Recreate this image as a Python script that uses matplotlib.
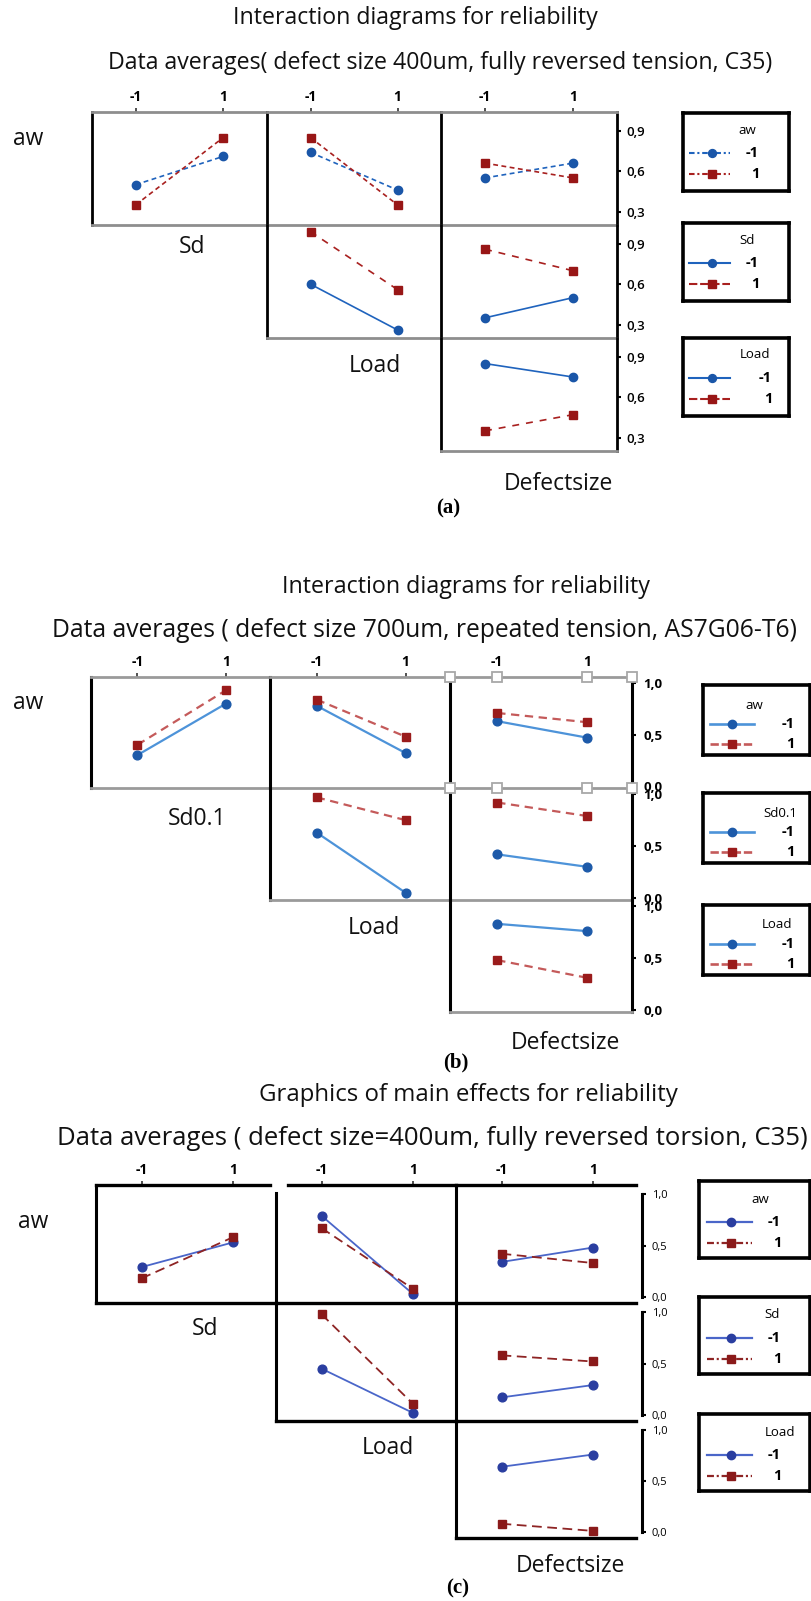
import matplotlib
matplotlib.use('Agg')
import matplotlib.pyplot as plt

W, H = 811, 1601
LEVELS = [-1, 1]
LEVEL_LABELS = ['-1', '1']

# ---- values read off the three Minitab interaction matrices ----
# every cell: [trace level -1 (blue), trace level 1 (red)], each at x = -1, 1
# (a) defect size 400um, fully reversed tension, C35
A_AW_SD = [[0.50, 0.71], [0.35, 0.85]]
A_AW_LOAD = [[0.74, 0.46], [0.85, 0.35]]
A_AW_DEF = [[0.55, 0.66], [0.66, 0.55]]
A_SD_LOAD = [[0.60, 0.26], [0.99, 0.56]]
A_SD_DEF = [[0.35, 0.50], [0.86, 0.70]]
A_LOAD_DEF = [[0.85, 0.75], [0.35, 0.47]]
A_FACTORS = ['aw', 'Sd', 'Load', 'Defectsize']
A_YTICKS = [0.3, 0.6, 0.9]
A_YLABELS = ['0,3', '0,6', '0,9']

# (b) defect size 700um, repeated tension, AS7G06-T6
B_AW_SD = [[0.30, 0.80], [0.40, 0.93]]
B_AW_LOAD = [[0.78, 0.32], [0.84, 0.48]]
B_AW_DEF = [[0.63, 0.47], [0.71, 0.62]]
B_SD_LOAD = [[0.63, 0.05], [0.97, 0.75]]
B_SD_DEF = [[0.42, 0.30], [0.92, 0.79]]
B_LOAD_DEF = [[0.83, 0.76], [0.48, 0.31]]
B_FACTORS = ['aw', 'Sd0.1', 'Load', 'Defectsize']
B_YTICKS = [0.0, 0.5, 1.0]
B_YLABELS = ['0,0', '0,5', '1,0']

# (c) defect size=400um, fully reversed torsion, C35
C_AW_SD = [[0.29, 0.53], [0.18, 0.58]]
C_AW_LOAD = [[0.79, 0.03], [0.67, 0.08]]
C_AW_DEF = [[0.34, 0.48], [0.42, 0.33]]
C_SD_LOAD = [[0.45, 0.02], [0.98, 0.11]]
C_SD_DEF = [[0.17, 0.29], [0.58, 0.52]]
C_LOAD_DEF = [[0.64, 0.76], [0.08, 0.01]]
C_FACTORS = ['aw', 'Sd', 'Load', 'Defectsize']
C_YTICKS = [0.0, 0.5, 1.0]
C_YLABELS = ['0,0', '0,5', '1,0']

plt.rcParams['font.family'] = ['Open Sans', 'DejaVu Sans']
plt.rcParams['lines.scale_dashes'] = False

fig = plt.figure(figsize=(W / 100, H / 100), dpi=100)
renderer = fig.canvas.get_renderer()


def px_axes(x0, y0, x1, y1):
    """axes from pixel box, y measured from the top"""
    return fig.add_axes([x0 / W, 1 - y1 / H, (x1 - x0) / W, (y1 - y0) / H])


def put_text(s, x, y, size, **kw):
    kw.setdefault('ha', 'center')
    kw.setdefault('va', 'center')
    return fig.text(x / W, 1 - y / H, s, fontsize=size, **kw)


def fitted_text(s, x, y, width, size=15, **kw):
    t = put_text(s, x, y, size, **kw)
    bb = t.get_window_extent(renderer)
    t.set_fontsize(size * width / bb.width)
    return t


def draw_panel(lay, sty, cells, yticks, ylabels):
    xe, ye = lay['xe'], lay['ye']
    for (r, c), (lo, hi) in cells.items():
        ax = px_axes(xe[c], ye[r], xe[c + 1], ye[r + 1])
        ax.set_xlim(lay['xlim'])
        ax.set_ylim(lay['ylim'])
        ax.patch.set_visible(False)
        for side in ['right', 'top']:
            ax.spines[side].set_visible(False)
        ax.spines['left'].set(color=sty['vcol'], linewidth=sty['vlw'])
        ax.spines['bottom'].set(color=sty['hcol'], linewidth=sty['hlw'])
        if r == 0:
            ax.spines['top'].set_visible(True)
            ax.spines['top'].set(color=sty['hcol'], linewidth=sty['hlw'])
            ax.xaxis.tick_top()
            ax.set_xticks(LEVELS, LEVEL_LABELS, fontsize=10, fontweight='bold')
            ax.tick_params(axis='x', direction='out', length=3, width=1.2,
                           pad=3, color='#333333')
            if 'top_gap' in lay and c == 0:
                ax.spines['top'].set_bounds(lay['xlim'][0], lay['xlim'][1] - lay['top_gap'])
            if 'top_gap' in lay and c == 1:
                ax.spines['top'].set_bounds(lay['xlim'][0] + 2 * lay['top_gap'], lay['xlim'][1])
                ax.spines['left'].set_bounds(lay['ylim'][0], lay['ylim'][1] - 0.08)
        else:
            ax.set_xticks([])
        if c == 2:
            sp = ax.spines['right']
            sp.set_visible(True)
            sp.set(color=sty['vcol'], linewidth=sty['vlw'])
            if 'right_out' in lay:
                sp.set_position(('outward', lay['right_out']))
                sp.set_bounds(0.0, 1.0)
            ax.yaxis.tick_right()
            ax.set_yticks(yticks, ylabels, fontsize=sty['ytick_size'],
                          fontweight=sty['ytick_weight'])
            ax.tick_params(axis='y', direction='out', length=3, width=1.5,
                           pad=lay['ypad'], color='black')
        else:
            ax.set_yticks([])
        ls_lo, ls_hi = sty['dash'][r]
        ax.plot(LEVELS, lo, color=sty['blue'], lw=sty['lw'], ls=ls_lo,
                marker='o', ms=sty['ms'], mfc=sty['blue_m'], mec=sty['blue_m'],
                clip_on=False, zorder=3)
        ax.plot(LEVELS, hi, color=sty['red'], lw=sty['lw'], ls=ls_hi,
                marker='s', ms=sty['ms'] - 0.3, mfc=sty['red_m'], mec=sty['red_m'],
                clip_on=False, zorder=3)
        if lay.get('handles') and c == 2 and r < 2:
            # grey selection handles along the top edge, as in the Minitab export
            xl = lay['xlim']
            ax.plot([xl[0], -1, 1, xl[1]], [1, 1, 1, 1], ls='none', marker='s',
                    ms=7, mfc='white', mec='#a8a8a8', mew=1.3, clip_on=False,
                    transform=ax.get_xaxis_transform(), zorder=5)


def draw_legends(lay, sty, names):
    x0, x1 = lay['leg_x']
    hx0, hx1, hm = lay['leg_handle']
    for k, name in enumerate(names[:3]):
        top = lay['leg_top'][k]
        bot = top + lay['leg_h']
        ax = px_axes(x0, top, x1, bot)
        ax.set_xlim(x0, x1)
        ax.set_ylim(bot, top)
        ax.set_xticks([])
        ax.set_yticks([])
        for sp in ax.spines.values():
            sp.set(linewidth=2.6, color='black')
        ax.text(lay['leg_title_x'][k], top + lay['leg_title_dy'], name,
                ha='center', va='center', fontsize=9.5)
        ls_lo, ls_hi = sty['leg_dash'][k]
        for dy, lab, col, mcol, mk, ls in [
                (lay['leg_dy'][0], '-1', sty['blue'], sty['blue_m'], 'o', ls_lo),
                (lay['leg_dy'][1], '1', sty['red'], sty['red_m'], 's', ls_hi)]:
            y = top + dy
            ax.plot([hx0, hx1], [y, y], color=col, lw=sty['lw'] + 0.3, ls=ls)
            ax.plot([hm], [y], marker=mk, ms=sty['ms'] - 0.3, color=mcol, ls='none')
            ax.text(lay['leg_label_x'][k], y, lab, ha='right', va='center',
                    fontsize=10.5, fontweight='bold')


def draw_texts(lay, names):
    t, tx, ty, tw = lay['title']
    fitted_text(t, tx, ty, tw, color='#111111')
    s, sx, sy, sw = lay['sub']
    fitted_text(s, sx, sy, sw, color='#111111')
    for name, (x, y) in zip(names, lay['names_xy']):
        put_text(name, x, y, 16.5, color='#111111')
    lab, lx, ly = lay['label']
    put_text(lab, lx, ly, 15, family=['Liberation Serif', 'DejaVu Serif'],
             fontweight='bold')


# ---- layout (pixels) and styles ----
LAY_A = dict(xe=[92, 267, 441, 617], ye=[112, 225, 338, 451],
             xlim=(-2.0, 2.0), ylim=(0.20, 1.04), ypad=4,
             title=('Interaction diagrams for reliability', 415, 18, 366),
             sub=('Data averages( defect size 400um, fully reversed tension, C35)', 440, 63, 665),
             names_xy=[(28, 139), (192, 247), (375, 366), (558, 484)],
             label=('(a)', 448, 508),
             leg_x=(683, 789), leg_top=[113, 223, 338], leg_h=78,
             leg_handle=(689, 730, 712), leg_title_x=[747, 747, 755],
             leg_label_x=[759, 759, 772], leg_title_dy=17, leg_dy=(40, 61))
STY_A = dict(blue='#1f63bd', blue_m='#1a56a8', red='#a8201f', red_m='#981616',
             lw=1.2, ms=6, vcol='black', vlw=2.0, hcol='#8e8e8e', hlw=2.0,
             ytick_size=9.5, ytick_weight='semibold',
             dash={0: ((0, (3.5, 2.5)), (0, (3.5, 2.5))),
                   1: ('-', (0, (5, 5))), 2: ('-', (0, (5, 5)))},
             leg_dash=[((0, (4, 2, 1.5, 2)), (0, (4, 2, 1.5, 2))),
                       ('-', (0, (6, 2))), ('-', (0, (6, 2)))])

LAY_B = dict(xe=[91, 270, 450, 632], ye=[677, 788, 900, 1012],
             xlim=(-2.05, 2.0), ylim=(-0.02, 1.06), ypad=5, handles=True,
             title=('Interaction diagrams for reliability', 466, 587, 368),
             sub=('Data averages ( defect size 700um, repeated tension, AS7G06-T6)', 424, 630, 745),
             names_xy=[(28, 703), (197, 819), (374, 928), (565, 1043)],
             label=('(b)', 456, 1062),
             leg_x=(703, 810), leg_top=[685, 793, 905], leg_h=70,
             leg_handle=(710, 754, 732), leg_title_x=[754, 780, 777],
             leg_label_x=[795, 795, 795], leg_title_dy=20, leg_dy=(39, 59))
STY_B = dict(blue='#4d93d9', blue_m='#1d5aa9', red='#c45a5a', red_m='#9a1b1b',
             lw=1.6, ms=6.3, vcol='black', vlw=2.2, hcol='#9a9a9a', hlw=2.0,
             ytick_size=9.5, ytick_weight='bold',
             dash={0: ('-', (0, (6, 4))), 1: ('-', (0, (6, 4))), 2: ('-', (0, (6, 4)))},
             leg_dash=[('-', (0, (6, 2)))] * 3)

LAY_C = dict(xe=[96, 276, 456, 636], ye=[1185, 1303, 1421, 1538],
             xlim=(-2.0, 1.95), ylim=(-0.06, 1.09), ypad=4, right_out=4.5,
             top_gap=0.13,
             title=('Graphics of main effects for reliability', 468, 1095, 417),
             sub=('Data averages ( defect size=400um, fully reversed torsion, C35)', 432, 1138, 751),
             names_xy=[(33, 1222), (205, 1329), (388, 1448), (570, 1566)],
             label=('(c)', 458, 1588),
             leg_x=(699, 810), leg_top=[1181, 1297, 1414], leg_h=77,
             leg_handle=(707, 752, 731), leg_title_x=[760, 772, 780],
             leg_label_x=[781, 781, 781], leg_title_dy=18, leg_dy=(41, 62))
STY_C = dict(blue='#4a66c9', blue_m='#2a3ea0', red='#8e2424', red_m='#8a1a1a',
             lw=1.3, ms=6.3, vcol='black', vlw=2.2, hcol='black', hlw=2.4,
             ytick_size=8, ytick_weight='normal',
             dash={0: ('-', (0, (7, 4))), 1: ('-', (0, (7, 4))), 2: ('-', (0, (7, 4)))},
             leg_dash=[('-', (0, (5, 2, 1.5, 2)))] * 3)

PANELS = [
    (LAY_A, STY_A, A_FACTORS, A_YTICKS, A_YLABELS,
     {(0, 0): A_AW_SD, (0, 1): A_AW_LOAD, (0, 2): A_AW_DEF,
      (1, 1): A_SD_LOAD, (1, 2): A_SD_DEF, (2, 2): A_LOAD_DEF}),
    (LAY_B, STY_B, B_FACTORS, B_YTICKS, B_YLABELS,
     {(0, 0): B_AW_SD, (0, 1): B_AW_LOAD, (0, 2): B_AW_DEF,
      (1, 1): B_SD_LOAD, (1, 2): B_SD_DEF, (2, 2): B_LOAD_DEF}),
    (LAY_C, STY_C, C_FACTORS, C_YTICKS, C_YLABELS,
     {(0, 0): C_AW_SD, (0, 1): C_AW_LOAD, (0, 2): C_AW_DEF,
      (1, 1): C_SD_LOAD, (1, 2): C_SD_DEF, (2, 2): C_LOAD_DEF}),
]

for lay, sty, names, yt, yl, cells in PANELS:
    draw_panel(lay, sty, cells, yt, yl)
    draw_legends(lay, sty, names)
    draw_texts(lay, names)

fig.savefig('out.png', dpi=100)
